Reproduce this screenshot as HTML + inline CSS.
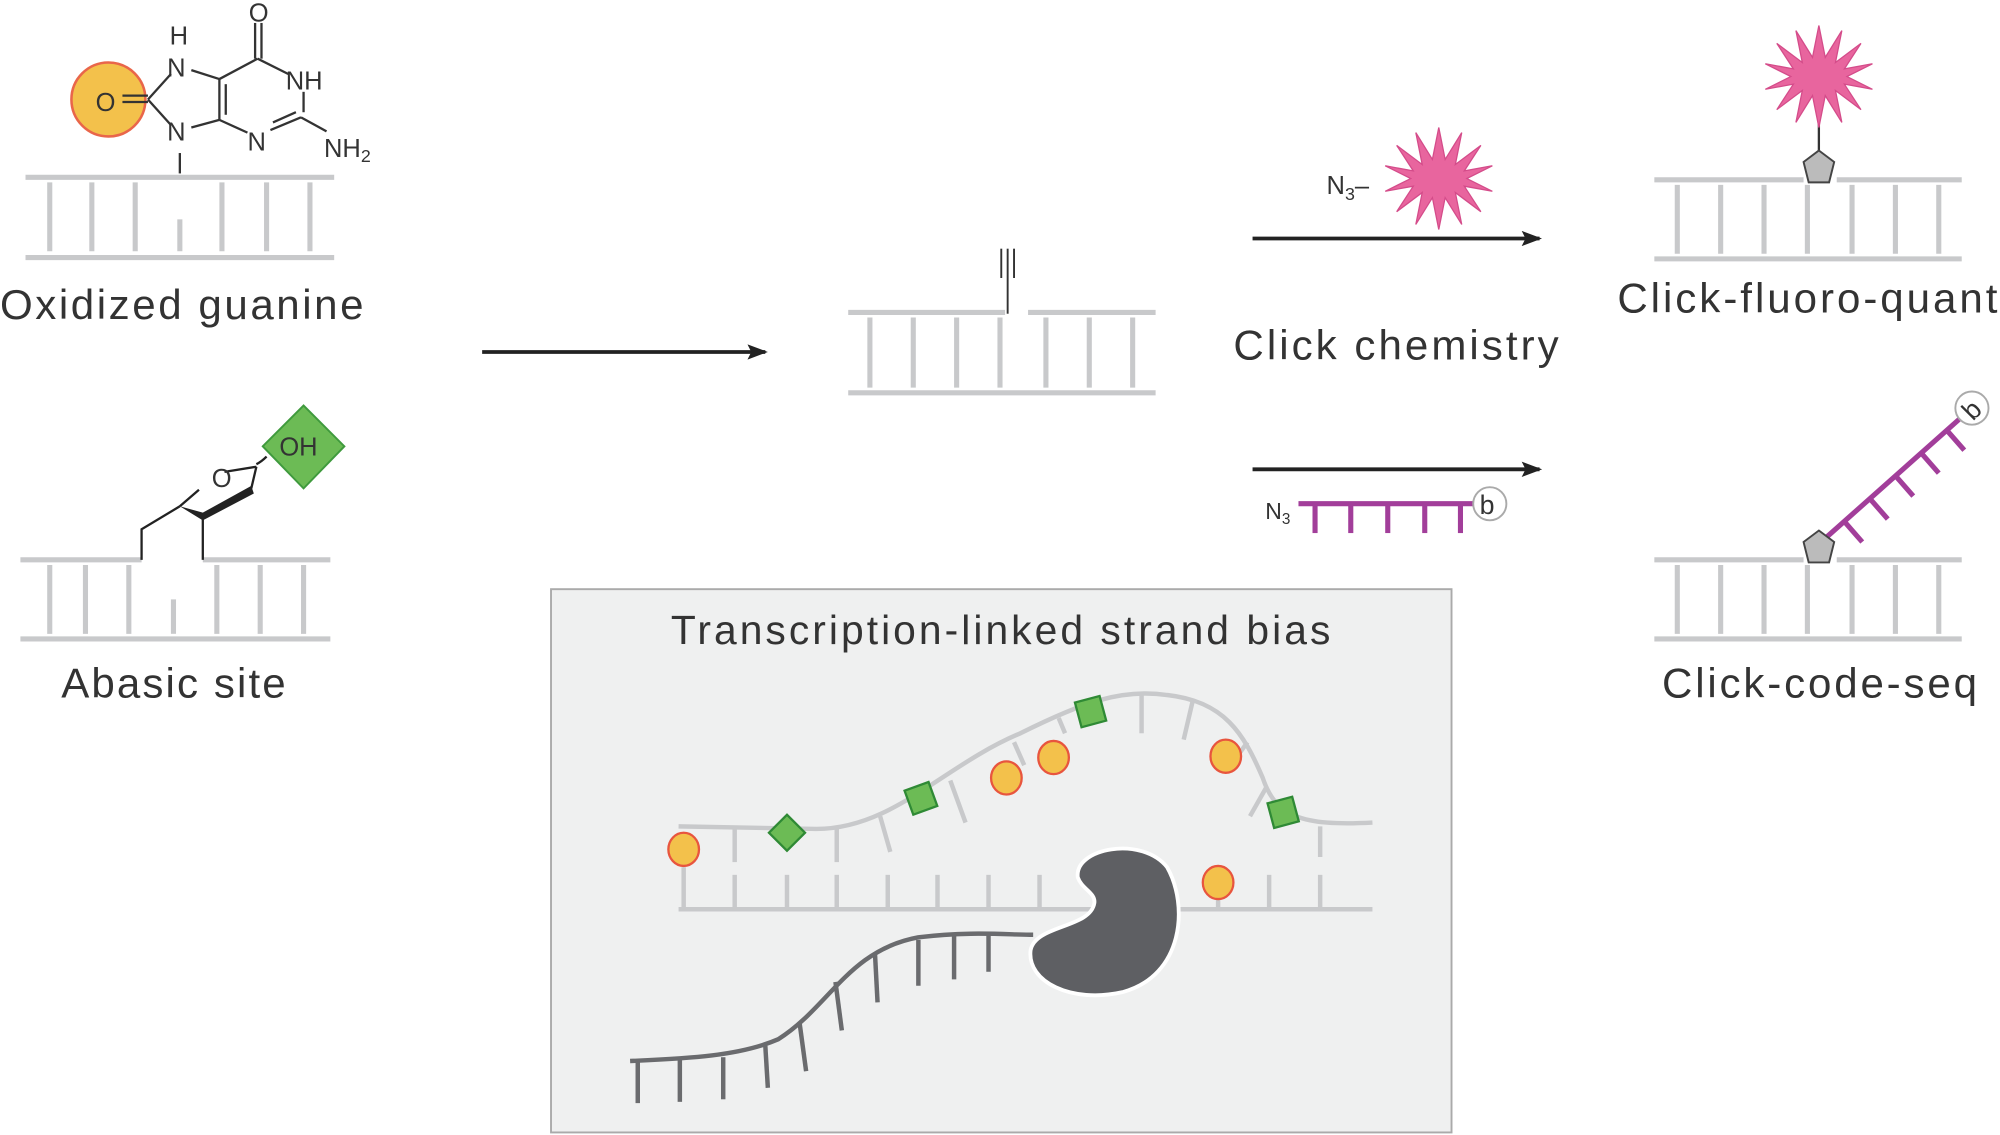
<!DOCTYPE html>
<html><head><meta charset="utf-8"><style>
html,body{margin:0;padding:0;background:#fff;}
svg{display:block;}
text{font-family:"Liberation Sans",sans-serif;fill:#333;}
</style></head><body>
<svg width="2000" height="1135" viewBox="0 0 1568 890" preserveAspectRatio="none" xmlns="http://www.w3.org/2000/svg">
<defs>
<marker id="ah" markerWidth="16" markerHeight="12" refX="14" refY="6" orient="auto" markerUnits="userSpaceOnUse"><path d="M0,0 L16,6 L0,12 L3,6 Z" fill="#222"/></marker>
</defs>
<!-- Oxidized guanine -->
<g stroke="#c8c9cb" stroke-width="4" fill="none">
<line x1="20" y1="139" x2="262" y2="139"/><line x1="20" y1="202" x2="262" y2="202"/>
<line x1="39" y1="143" x2="39" y2="197"/><line x1="72" y1="143" x2="72" y2="197"/><line x1="106" y1="143" x2="106" y2="197"/>
<line x1="141" y1="172" x2="141" y2="197"/><line x1="174" y1="143" x2="174" y2="197"/><line x1="209" y1="143" x2="209" y2="197"/><line x1="243" y1="143" x2="243" y2="197"/>
</g>
<circle cx="85" cy="78" r="29" fill="#f3c14b" stroke="#e9664a" stroke-width="2"/>
<g stroke="#333" stroke-width="1.8" fill="none">
<line x1="141" y1="120" x2="141" y2="136"/>
<line x1="96" y1="75" x2="116" y2="75"/><line x1="96" y1="80" x2="116" y2="80"/>
<line x1="116" y1="78" x2="134" y2="58"/><line x1="116" y1="78" x2="134" y2="98"/>
<line x1="150" y1="55" x2="172" y2="62"/><line x1="150" y1="100" x2="172" y2="94"/>
<line x1="172" y1="62" x2="172" y2="94"/><line x1="177" y1="66" x2="177" y2="90"/>
<line x1="172" y1="62" x2="202" y2="46"/><line x1="200" y1="18" x2="200" y2="46"/><line x1="205" y1="18" x2="205" y2="46"/>
<line x1="202" y1="46" x2="226" y2="58"/><line x1="238" y1="72" x2="238" y2="88"/>
<line x1="172" y1="94" x2="194" y2="104"/><line x1="212" y1="102" x2="236" y2="92"/><line x1="214" y1="96" x2="232" y2="88"/>
<line x1="236" y1="92" x2="256" y2="103"/>
</g>
<g font-size="20">
<text x="133" y="35">H</text><text x="131" y="60">N</text><text x="75" y="87">O</text><text x="131" y="110">N</text>
<text x="195" y="17">O</text><text x="224" y="70">NH</text><text x="194" y="118">N</text><text x="254" y="123">NH<tspan font-size="14" dy="4">2</tspan></text>
</g>
<text x="0" y="250" font-size="33" textLength="285">Oxidized guanine</text>
<!-- Abasic -->
<g stroke="#c8c9cb" stroke-width="4" fill="none">
<line x1="16" y1="439" x2="111" y2="439"/><line x1="159" y1="439" x2="259" y2="439"/><line x1="16" y1="501" x2="259" y2="501"/>
<line x1="39" y1="443" x2="39" y2="497"/><line x1="67" y1="443" x2="67" y2="497"/><line x1="101" y1="443" x2="101" y2="497"/>
<line x1="136" y1="470" x2="136" y2="497"/><line x1="170" y1="443" x2="170" y2="497"/><line x1="204" y1="443" x2="204" y2="497"/><line x1="238" y1="443" x2="238" y2="497"/>
</g>
<path d="M206,350 L238,318 L270,350 L238,383 Z" fill="#6cbb55" stroke="#3f9a3d" stroke-width="1.5"/>
<g stroke="#222" stroke-width="1.8" fill="none">
<polyline points="111,439 111,415 141,397"/>
<line x1="141" y1="397" x2="156" y2="384"/><line x1="176" y1="370" x2="201" y2="366"/>
<line x1="201" y1="366" x2="197" y2="383"/><line x1="159" y1="406" x2="159" y2="439"/>
<path d="M201,364 q4,-2 8,-6"/>
</g>
<path d="M197,381 L159,402 L141,397 L159,408 L199,387 Z" fill="#222"/>
<text x="166" y="382" font-size="20">O</text>
<text x="219" y="357" font-size="20">OH</text>
<text x="48" y="547" font-size="33" textLength="176">Abasic site</text>
<!-- main arrow -->
<line x1="378" y1="276" x2="600" y2="276" stroke="#222" stroke-width="3" marker-end="url(#ah)"/>
<!-- middle DNA -->
<g stroke="#c8c9cb" stroke-width="4" fill="none">
<line x1="665" y1="245" x2="788" y2="245"/><line x1="806" y1="245" x2="906" y2="245"/><line x1="665" y1="308" x2="906" y2="308"/>
<line x1="682" y1="249" x2="682" y2="304"/><line x1="716" y1="249" x2="716" y2="304"/><line x1="750" y1="249" x2="750" y2="304"/><line x1="784" y1="249" x2="784" y2="304"/>
<line x1="820" y1="249" x2="820" y2="304"/><line x1="854" y1="249" x2="854" y2="304"/><line x1="888" y1="249" x2="888" y2="304"/>
</g>
<g stroke="#333" stroke-width="1.5"><line x1="790" y1="218" x2="790" y2="246"/><line x1="785" y1="195" x2="785" y2="218"/><line x1="790" y1="195" x2="790" y2="218"/><line x1="795" y1="195" x2="795" y2="218"/></g>
<!-- click arrows -->
<line x1="982" y1="187" x2="1207" y2="187" stroke="#222" stroke-width="3" marker-end="url(#ah)"/>
<line x1="982" y1="368" x2="1207" y2="368" stroke="#222" stroke-width="3" marker-end="url(#ah)"/>
<text x="1040" y="152" font-size="20">N<tspan font-size="14" dy="5">3</tspan><tspan dy="-5">–</tspan></text>
<polygon id="star" fill="#e8659e" stroke="#d44c8a" stroke-width="1" points="1128,100 1133,125 1146,104 1141,129 1161,114 1148,134 1170,130 1150,140 1170,150 1148,146 1161,166 1141,151 1146,176 1133,155 1128,180 1123,155 1110,176 1115,151 1095,166 1108,146 1086,150 1106,140 1086,130 1108,134 1095,114 1115,129 1110,104 1123,125"/>
<text x="967" y="282" font-size="33" textLength="255">Click chemistry</text>
<text x="992" y="407" font-size="18">N<tspan font-size="12" dy="4">3</tspan></text>
<g stroke="#a23e9a" stroke-width="4"><line x1="1018" y1="395" x2="1157" y2="395"/>
<line x1="1031" y1="395" x2="1031" y2="418"/><line x1="1059" y1="395" x2="1059" y2="418"/><line x1="1088" y1="395" x2="1088" y2="418"/><line x1="1117" y1="395" x2="1117" y2="418"/><line x1="1145" y1="395" x2="1145" y2="418"/></g>
<circle cx="1168" cy="395" r="13" fill="#fff" stroke="#aaa" stroke-width="1.5"/><text x="1160" y="403" font-size="21">b</text>
<!-- fluoro-quant -->
<g stroke="#c8c9cb" stroke-width="4" fill="none">
<line x1="1297" y1="141" x2="1414" y2="141"/><line x1="1440" y1="141" x2="1538" y2="141"/><line x1="1297" y1="203" x2="1538" y2="203"/>
<line x1="1315" y1="145" x2="1315" y2="199"/><line x1="1349" y1="145" x2="1349" y2="199"/><line x1="1383" y1="145" x2="1383" y2="199"/><line x1="1417" y1="145" x2="1417" y2="199"/>
<line x1="1452" y1="145" x2="1452" y2="199"/><line x1="1486" y1="145" x2="1486" y2="199"/><line x1="1520" y1="145" x2="1520" y2="199"/>
</g>
<line x1="1426" y1="80" x2="1426" y2="120" stroke="#333" stroke-width="1.8"/>
<use href="#star" transform="translate(298,-80)"/>
<polygon points="1426,118 1438,127 1434,143 1418,143 1414,127" fill="#bbb" stroke="#444" stroke-width="1.5"/>
<text x="1268" y="245" font-size="33" textLength="298">Click-fluoro-quant</text>
<!-- code-seq -->
<g stroke="#c8c9cb" stroke-width="4" fill="none">
<line x1="1297" y1="439" x2="1414" y2="439"/><line x1="1440" y1="439" x2="1538" y2="439"/><line x1="1297" y1="501" x2="1538" y2="501"/>
<line x1="1315" y1="443" x2="1315" y2="497"/><line x1="1349" y1="443" x2="1349" y2="497"/><line x1="1383" y1="443" x2="1383" y2="497"/><line x1="1417" y1="443" x2="1417" y2="497"/>
<line x1="1452" y1="443" x2="1452" y2="497"/><line x1="1486" y1="443" x2="1486" y2="497"/><line x1="1520" y1="443" x2="1520" y2="497"/>
</g>
<g stroke="#a23e9a" stroke-width="4"><line x1="1430" y1="423" x2="1538" y2="327"/>
<line x1="1446" y1="409" x2="1460" y2="425"/><line x1="1466" y1="391" x2="1480" y2="407"/><line x1="1486" y1="373" x2="1500" y2="389"/><line x1="1506" y1="355" x2="1520" y2="371"/><line x1="1526" y1="337" x2="1540" y2="353"/></g>
<circle cx="1546" cy="320" r="13" fill="#fff" stroke="#aaa" stroke-width="1.5"/><text x="1539" y="328" font-size="21" transform="rotate(-45 1546 320)">b</text>
<polygon points="1426,416 1438,425 1434,441 1418,441 1414,425" fill="#bbb" stroke="#444" stroke-width="1.5"/>
<text x="1303" y="547" font-size="33" textLength="247">Click-code-seq</text>
<!-- box -->
<rect x="432" y="462" width="706" height="426" fill="#eff0f0" stroke="#aaa" stroke-width="1.5"/>
<text x="526" y="505" font-size="32" textLength="517">Transcription-linked strand bias</text>
<g stroke="#c8c9cb" stroke-width="3.5" fill="none">
<line x1="532" y1="713" x2="1076" y2="713"/>
<line x1="536" y1="680" x2="536" y2="713"/><line x1="576" y1="686" x2="576" y2="713"/><line x1="617" y1="686" x2="617" y2="713"/><line x1="656" y1="686" x2="656" y2="713"/><line x1="696" y1="686" x2="696" y2="713"/><line x1="735" y1="686" x2="735" y2="713"/><line x1="775" y1="686" x2="775" y2="713"/><line x1="815" y1="686" x2="815" y2="713"/><line x1="955" y1="700" x2="955" y2="713"/><line x1="995" y1="686" x2="995" y2="713"/><line x1="1035" y1="686" x2="1035" y2="713"/>
<path d="M532,648 L640,650 C700,650 740,600 800,575 C850,550 880,540 915,545 C960,550 975,575 990,610 C1000,640 1020,648 1076,645"/>
<line x1="576" y1="650" x2="576" y2="676"/><line x1="656" y1="650" x2="656" y2="676"/><line x1="690" y1="640" x2="698" y2="668"/><line x1="745" y1="612" x2="757" y2="645"/><line x1="795" y1="582" x2="803" y2="600"/><line x1="830" y1="563" x2="835" y2="575"/><line x1="895" y1="545" x2="895" y2="575"/><line x1="935" y1="550" x2="928" y2="580"/><line x1="978" y1="582" x2="965" y2="600"/><line x1="993" y1="617" x2="980" y2="640"/><line x1="1035" y1="648" x2="1035" y2="672"/>
</g>
<path d="M845,688 C842,665 895,655 915,680 C932,710 928,765 880,778 C840,787 805,770 808,745 C812,725 855,728 858,708 C859,700 848,697 845,688 Z" fill="#5e5f63" stroke="#fff" stroke-width="3"/>
<g stroke="#6a6b6e" stroke-width="3.5" fill="none">
<path d="M494,832 C540,830 580,828 610,815 C650,790 665,745 720,735 C760,730 790,733 810,733"/>
<line x1="500" y1="832" x2="500" y2="865"/><line x1="533" y1="831" x2="533" y2="864"/><line x1="567" y1="829" x2="567" y2="862"/><line x1="600" y1="820" x2="602" y2="853"/><line x1="627" y1="803" x2="632" y2="840"/><line x1="655" y1="770" x2="660" y2="808"/><line x1="686" y1="748" x2="688" y2="786"/><line x1="720" y1="737" x2="720" y2="773"/><line x1="748" y1="734" x2="748" y2="768"/><line x1="775" y1="733" x2="775" y2="762"/>
</g>
<g fill="#f3c14b" stroke="#e8553e" stroke-width="1.8">
<ellipse cx="536" cy="666" rx="12" ry="13"/><ellipse cx="789" cy="610" rx="12" ry="13"/><ellipse cx="826" cy="594" rx="12" ry="13"/><ellipse cx="961" cy="593" rx="12" ry="13"/><ellipse cx="955" cy="692" rx="12" ry="13"/>
</g>
<g fill="#6cbb55" stroke="#2f8a35" stroke-width="1.8">
<rect x="-10" y="-10" width="20" height="20" transform="translate(617,653) rotate(45)"/>
<rect x="-10" y="-10" width="20" height="20" transform="translate(722,626) rotate(-20)"/>
<rect x="-10" y="-10" width="20" height="20" transform="translate(855,558) rotate(-15)"/>
<rect x="-10" y="-10" width="20" height="20" transform="translate(1006,637) rotate(-15)"/>
</g>
</svg>
</body></html>
